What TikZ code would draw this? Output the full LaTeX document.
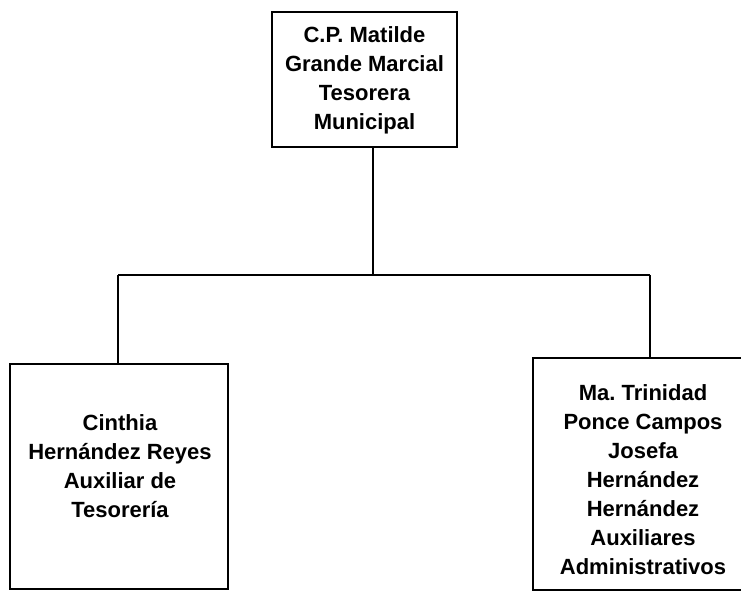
\documentclass[tikz,border=0pt]{standalone}
\usepackage{fontspec}
\setmainfont{Liberation Sans}
\frenchspacing
\begin{document}
\begin{tikzpicture}[x=1pt,y=1pt,
  box/.style={draw=black,line width=1.3pt,inner sep=0pt},
  lbl/.style={align=center,font=\fontsize{22}{29}\selectfont\bfseries,inner sep=0pt},
  conn/.style={draw=black,line width=1.6pt}]
\useasboundingbox (0,0) rectangle (741,592);
% top box (pixel coords: y = 592 - ypx)
\node[box,minimum width=185pt,minimum height=135pt] (top) at (364.5,512.5) {};
\node[lbl] (toptext) at (364.5,511.5) {C.P. Matilde\\Grande Marcial\\Tesorera\\Municipal};
% left box
\node[box,minimum width=218pt,minimum height=225pt] (left) at (119,115.5) {};
\node[lbl] (lefttext) at (120,125.5) {Cinthia\\Hernández Reyes\\Auxiliar de\\Tesorería};
% right box
\node[box,minimum width=215pt,minimum height=232pt] (right) at (640.5,118) {};
\node[lbl] (righttext) at (643,112) {Ma. Trinidad\\Ponce Campos\\Josefa\\Hernández\\Hernández\\Auxiliares\\Administrativos};
% connectors
\coordinate (j) at (373,317);
\coordinate (lj) at (118,317);
\coordinate (rj) at (650,317);
\draw[conn] (top.south -| j) -- (j);
\draw[conn] (lj) -- (rj);
\draw[conn] (lj) -- (left.north -| lj);
\draw[conn] (rj) -- (right.north -| rj);
\end{tikzpicture}
\end{document}
